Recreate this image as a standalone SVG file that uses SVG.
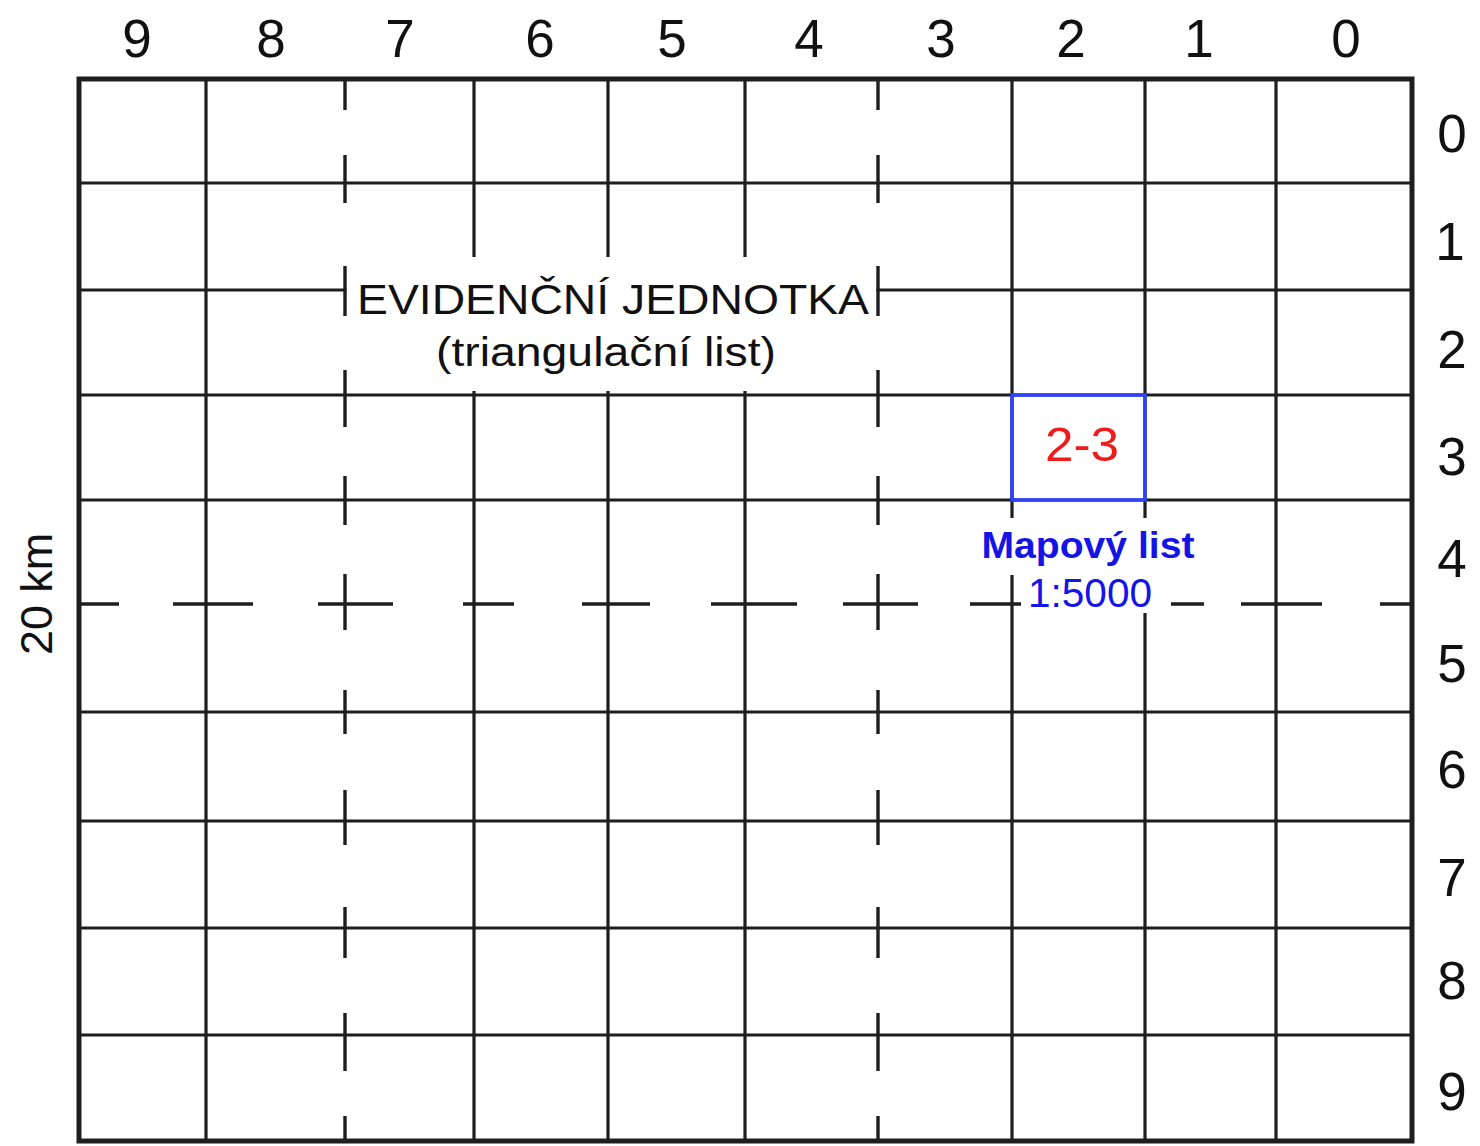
<svg xmlns="http://www.w3.org/2000/svg" width="1480" height="1146" viewBox="0 0 1480 1146">
<style>
.solid{stroke:#1e1e1e;stroke-width:3.2;fill:none}
.dash{stroke:#1e1e1e;stroke-width:3.4;fill:none}
.border{stroke:#1e1e1e;stroke-width:5;fill:none}
.bg{fill:#ffffff;stroke:none}
.num{font-family:"Liberation Sans",Arial,sans-serif;font-size:53px;fill:#111;text-anchor:middle}
.lbl{font-family:"Liberation Sans",Arial,sans-serif;fill:#111;text-anchor:middle}
</style>
<rect width="1480" height="1146" fill="#ffffff"/>
<g id="grid">
  <path class="solid" d="M206 79V1141 M474 79V1141 M608 79V1141 M745 79V1141 M1012 79V1141 M1145 79V1141 M1276 79V1141
    M79 183H1412 M79 290H1412 M79 395H1412 M79 500H1412 M79 712H1412 M79 821H1412 M79 928H1412 M79 1035H1412"/>
</g>
<g id="label-backgrounds">
  <rect class="bg" x="346.5" y="257" width="530" height="134"/>
  <rect class="bg" x="975" y="518" width="225" height="57"/>
  <rect class="bg" x="1020" y="575" width="140" height="38"/>
</g>
<g id="dashed-lines">
  <path class="dash" d="M345 79V110 M345 155V203 M345 266V316 M345 370V427 M345 476V525 M345 574V630 M345 690V734 M345 790V845 M345 907V958 M345 1013V1071 M345 1116V1141"/>
  <path class="dash" d="M878 79V110 M878 155V203 M878 266V316 M878 370V427 M878 476V525 M878 574V630 M878 690V734 M878 790V845 M878 907V958 M878 1013V1071 M878 1116V1141"/>
  <path class="dash" d="M79 604H119 M173 604H253 M318 604H393 M463 604H514 M582 604H650 M711 604H797 M843 604H918 M970 604H1021 M1171 604H1204 M1241 604H1322 M1380 604H1412"/>
</g>
<g id="border">
  <rect class="border" x="79" y="79" width="1333" height="1062"/>
</g>
<g id="map-sheet">
  <rect x="1012" y="395" width="133" height="105" fill="none" stroke="#2f42ff" stroke-width="3.5"/>
  <text x="1082" y="461" font-family="Liberation Sans,Arial,sans-serif" font-size="48" fill="#f01c1c" text-anchor="middle" textLength="74" lengthAdjust="spacingAndGlyphs">2-3</text>
</g>
<g id="map-sheet-label">
  <text x="1088" y="558" font-family="Liberation Sans,Arial,sans-serif" font-size="37" font-weight="bold" fill="#1414e6" text-anchor="middle" textLength="213" lengthAdjust="spacingAndGlyphs">Mapový list</text>
  <text x="1090" y="607" font-family="Liberation Sans,Arial,sans-serif" font-size="40" fill="#1414e6" text-anchor="middle" textLength="124" lengthAdjust="spacingAndGlyphs">1:5000</text>
</g>
<g id="unit-label">
  <text class="lbl" x="613" y="314" font-size="43" textLength="512" lengthAdjust="spacingAndGlyphs">EVIDENČNÍ JEDNOTKA</text>
  <text class="lbl" x="606" y="366" font-size="40" textLength="340" lengthAdjust="spacingAndGlyphs">(triangulační list)</text>
</g>
<g id="column-labels">
  <text class="num" x="137" y="57">9</text>
  <text class="num" x="271" y="57">8</text>
  <text class="num" x="400" y="57">7</text>
  <text class="num" x="540" y="57">6</text>
  <text class="num" x="672" y="57">5</text>
  <text class="num" x="809" y="57">4</text>
  <text class="num" x="941" y="57">3</text>
  <text class="num" x="1071" y="57">2</text>
  <text class="num" x="1199" y="57">1</text>
  <text class="num" x="1346" y="57">0</text>
</g>
<g id="row-labels">
  <text class="num" x="1452" y="152">0</text>
  <text class="num" x="1450" y="260">1</text>
  <text class="num" x="1452" y="368">2</text>
  <text class="num" x="1452" y="475">3</text>
  <text class="num" x="1452" y="577">4</text>
  <text class="num" x="1452" y="682">5</text>
  <text class="num" x="1452" y="788">6</text>
  <text class="num" x="1452" y="896">7</text>
  <text class="num" x="1452" y="999">8</text>
  <text class="num" x="1452" y="1110">9</text>
</g>
<g id="scale-label">
  <text class="lbl" font-size="44" transform="translate(52,594) rotate(-90)" textLength="122" lengthAdjust="spacingAndGlyphs">20 km</text>
</g>
</svg>
